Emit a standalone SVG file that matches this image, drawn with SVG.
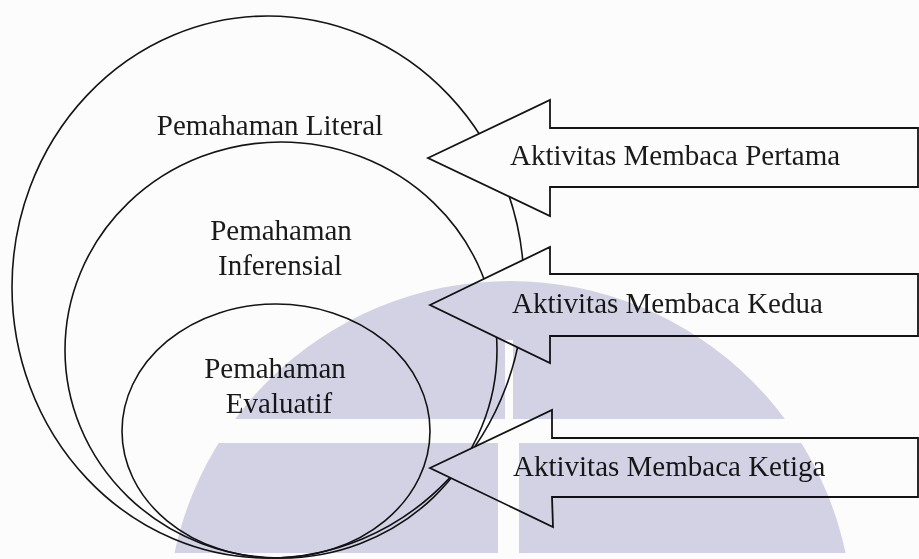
<svg xmlns="http://www.w3.org/2000/svg" width="919" height="559" viewBox="0 0 919 559">
  <style>
    .oval { fill: none; stroke: #141414; stroke-width: 1.6; }
    .arrow { fill: #fcfcfc; stroke: #141414; stroke-width: 1.8; stroke-linejoin: miter; }
    .lbl { font-family: "Liberation Serif", "Times New Roman", serif; font-size: 29px; fill: #1a1a1a; }
    .mid { text-anchor: middle; }
    .wm { mix-blend-mode: multiply; }
  </style>
  <defs>
    <clipPath id="wmClip">
      <rect x="0" y="0" width="919" height="419"/>
      <rect x="0" y="443" width="919" height="110"/>
    </clipPath>
  </defs>
  <rect x="0" y="0" width="919" height="559" fill="#fcfcfc"/>

  <g id="node-literal">
    <ellipse class="oval" cx="268" cy="287" rx="256" ry="271"/>
    <text class="lbl mid" x="270" y="135">Pemahaman Literal</text>
  </g>
  <g id="node-inferensial">
    <ellipse class="oval" cx="281" cy="350" rx="216" ry="208"/>
    <text class="lbl mid" x="281" y="240">Pemahaman</text>
    <text class="lbl mid" x="280" y="275">Inferensial</text>
  </g>
  <g id="node-evaluatif">
    <ellipse class="oval" cx="276" cy="431" rx="154" ry="127"/>
    <text class="lbl mid" x="275" y="378">Pemahaman</text>
    <text class="lbl mid" x="279" y="413">Evaluatif</text>
  </g>

  <g id="connectors">
    <g id="arrow-pertama">
      <polygon class="arrow" points="428,158 550,100 550,128 918,128 918,187 550,187 550,216"/>
      <text class="lbl" x="510" y="165">Aktivitas Membaca Pertama</text>
    </g>
    <g id="arrow-kedua">
      <polygon class="arrow" points="430,305 550,247 550,274 918,274 918,336 550,336 550,363"/>
      <text class="lbl" x="512" y="313">Aktivitas Membaca Kedua</text>
    </g>
    <g id="arrow-ketiga">
      <polygon class="arrow" points="430,468 552,410 552,438 918,438 918,497 552,497 553,527"/>
      <text class="lbl" x="513" y="476">Aktivitas Membaca Ketiga</text>
    </g>
  </g>

  <g id="watermark" class="wm">
    <circle cx="510" cy="624" r="343" fill="#d6d5e8" clip-path="url(#wmClip)"/>
    <rect x="505" y="340" width="8" height="79" fill="#ffffff"/>
    <rect x="498" y="443" width="21" height="110" fill="#ffffff"/>
  </g>
</svg>
